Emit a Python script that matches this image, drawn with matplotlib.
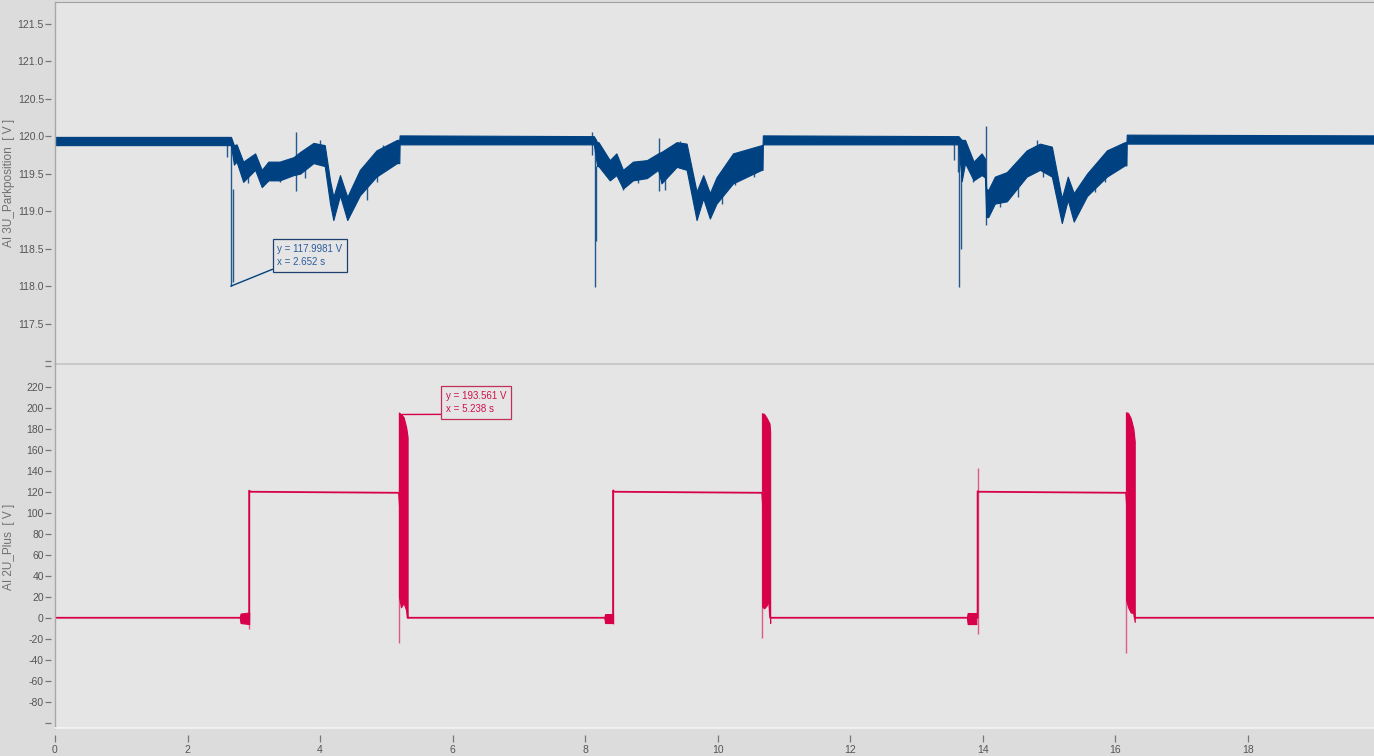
import matplotlib
matplotlib.use("Agg")
import matplotlib.pyplot as plt

plt.rcParams["font.family"] = ["Liberation Sans", "DejaVu Sans"]

# ─────────────────────────────────────────────────────────────
# Data (time in s, voltage in V)
# ─────────────────────────────────────────────────────────────

# AI 3U_Parkposition: noise band (upper / lower envelope)
PARK_T = [0.0, 2.655, 2.70, 2.74, 2.84, 3.02, 3.12, 3.22, 3.39, 3.60, 3.70,
          3.90, 4.07, 4.15, 4.20, 4.30, 4.41, 4.60, 4.85, 5.16, 5.195, 5.20,
          8.13, 8.18, 8.20, 8.37, 8.47, 8.57, 8.72, 8.93, 9.10, 9.15, 9.38,
          9.53, 9.68, 9.78, 9.88, 9.98, 10.23, 10.66, 10.675, 10.68,
          13.63, 13.68, 13.73, 13.86, 13.98, 14.03, 14.05, 14.08, 14.18,
          14.36, 14.66, 14.86, 15.04, 15.19, 15.28, 15.37, 15.57, 15.87,
          16.14, 16.165, 16.17, 19.9]
PARK_HI = [119.99, 119.99, 119.88, 119.89, 119.66, 119.77, 119.55, 119.66,
           119.66, 119.72, 119.79, 119.91, 119.88, 119.41, 119.19, 119.48,
           119.19, 119.55, 119.81, 119.95, 119.95, 120.01,
           120.00, 119.92, 119.92, 119.68, 119.77, 119.55, 119.66, 119.68,
           119.77, 119.79, 119.92, 119.90, 119.26, 119.48, 119.24, 119.45,
           119.77, 119.88, 119.88, 120.01,
           120.00, 119.95, 119.95, 119.66, 119.77, 119.70, 119.30, 119.28,
           119.46, 119.52, 119.81, 119.90, 119.86, 119.17, 119.46, 119.24,
           119.50, 119.81, 119.92, 119.92, 120.02, 120.01]
PARK_LO = [119.88, 119.88, 119.62, 119.66, 119.39, 119.55, 119.32, 119.41,
           119.41, 119.48, 119.50, 119.64, 119.60, 119.10, 118.88, 119.21,
           118.88, 119.21, 119.46, 119.64, 119.64, 119.89,
           119.89, 119.60, 119.60, 119.41, 119.48, 119.30, 119.41, 119.44,
           119.55, 119.37, 119.59, 119.55, 118.88, 119.17, 118.90, 119.10,
           119.37, 119.55, 119.55, 119.89,
           119.89, 119.40, 119.64, 119.41, 119.48, 119.45, 118.92, 118.92,
           119.10, 119.13, 119.46, 119.55, 119.46, 118.84, 119.15, 118.86,
           119.20, 119.46, 119.61, 119.61, 119.90, 119.90]

# single spikes / outliers in AI 3U_Parkposition: time, low, high
PARK_SPIKE_T = [2.60, 2.662, 2.685, 3.63, 8.10, 8.14, 8.16, 9.11,
                13.57, 13.62, 13.645, 13.665, 14.04,
                2.917, 3.395, 3.772, 4.00, 4.703, 4.853, 4.95,
                8.575, 8.80, 9.20, 9.43, 10.06, 10.26, 10.54,
                13.855, 14.257, 14.53, 14.81, 14.91, 15.69, 15.84]
PARK_SPIKE_LO = [119.72, 117.998, 118.05, 119.27, 119.75, 117.99, 118.60,
                 119.27, 119.68, 119.52, 117.99, 118.50, 118.81,
                 119.37, 119.39, 119.44, 119.75, 119.15, 119.39, 119.70,
                 119.28, 119.37, 119.28, 119.75, 119.10, 119.35, 119.46,
                 119.39, 119.06, 119.19, 119.75, 119.46, 119.26, 119.39]
PARK_SPIKE_HI = [119.95, 119.98, 119.30, 120.05, 120.05, 119.98, 119.60,
                 119.97, 119.98, 119.95, 119.95, 119.50, 120.13,
                 119.55, 119.55, 119.60, 119.95, 119.35, 119.55, 119.88,
                 119.45, 119.50, 119.45, 119.94, 119.25, 119.50, 119.60,
                 119.55, 119.25, 119.35, 119.95, 119.60, 119.40, 119.55]

# AI 2U_Plus: main trace
PLUS_T = [0.0, 2.93, 2.93, 2.95, 5.19, 5.32, 8.42, 8.42, 8.44, 10.67, 10.79,
          13.92, 13.92, 13.94, 16.16, 16.29, 19.9]
PLUS_V = [0.0, 0.0, 121.0, 120.0, 119.0, 0.0, 0.0, 121.0, 120.0, 119.0, 0.0,
          0.0, 120.5, 120.0, 119.0, 0.0, 0.0]

# AI 2U_Plus: oscillation bursts (time, upper, lower)
BURST_T = [[2.79, 2.80, 2.93], [5.19, 5.22, 5.26, 5.30, 5.32],
           [8.29, 8.30, 8.42], [10.67, 10.70, 10.74, 10.78, 10.79],
           [13.76, 13.77, 13.90], [16.16, 16.19, 16.23, 16.27, 16.29]]
BURST_HI = [[1.0, 4.0, 5.0], [195.2, 194.0, 191.0, 181.0, 172.0],
            [1.0, 3.5, 3.5], [194.7, 194.0, 190.0, 185.0, 177.0],
            [1.0, 4.5, 4.5], [195.6, 195.0, 190.0, 180.0, 168.0]]
BURST_LO = [[-1.0, -5.0, -6.0], [20.0, 10.0, 14.0, 7.0, 0.0],
            [-1.0, -5.0, -5.0], [10.5, 9.0, 12.0, 17.0, -5.0],
            [-1.0, -6.0, -6.0], [17.0, 10.0, 5.0, 4.5, -4.0]]

# single spikes in AI 2U_Plus
PLUS_SPIKE_T = [2.93, 5.19, 8.42, 10.67, 13.92, 16.16]
PLUS_SPIKE_LO = [-11.0, -24.0, -6.3, -19.0, -15.0, -34.0]
PLUS_SPIKE_HI = [121.6, 195.5, 122.3, 195.0, 143.0, 196.0]

# cursor readouts
PARK_CURSOR = (2.652, 117.9981)
PLUS_CURSOR = (5.238, 193.561)

PARK_TICKS = [117.0, 117.5, 118.0, 118.5, 119.0, 119.5, 120.0, 120.5,
              121.0, 121.5]
PLUS_TICKS = list(range(-100, 241, 20))
TIME_TICKS = list(range(0, 19, 2))

# ─────────────────────────────────────────────────────────────
# Style
# ─────────────────────────────────────────────────────────────

BLUE = "#004182"
RED = "#d7004a"
BG = "#e5e5e5"
MARGIN = "#dcdcdc"
TICK_COL = "#555555"

fig = plt.figure(figsize=(13.74, 7.56), dpi=100, facecolor=MARGIN)

ax1 = fig.add_axes([0.0400, 0.5185, 0.9600, 0.4789], facecolor=BG)
ax2 = fig.add_axes([0.0400, 0.0370, 0.9600, 0.4802], facecolor=BG,
                   sharex=ax1)


def style_axis(ax, ticks, label, fmt, last_blank):
    ax.set_yticks(ticks)
    labels = [fmt(v) for v in ticks]
    labels[0] = ""
    if last_blank:
        labels[-1] = ""
    ax.set_yticklabels(labels)
    ax.tick_params(axis="y", direction="out", length=4, width=0.9,
                   color="#777777", labelsize=7.5, labelcolor=TICK_COL,
                   pad=1)
    ax.spines["left"].set_position(("outward", 3))
    ax.spines["left"].set_visible(False)
    ax.spines["right"].set_visible(False)
    # border at x = 0
    ax.plot([0, 0], [0, 1], transform=ax.transAxes, color="#a8a8a8",
            linewidth=1.0, clip_on=False, zorder=5)
    ax.set_ylabel(label, fontsize=8.5, color="#707070")
    ax.yaxis.set_label_coords(-0.0305, 0.5)


# top panel
ax1.fill_between(PARK_T, PARK_LO, PARK_HI, color=BLUE, linewidth=0.8,
                 edgecolor=BLUE)
ax1.vlines(PARK_SPIKE_T, PARK_SPIKE_LO, PARK_SPIKE_HI, color=BLUE,
           linewidth=1.0, alpha=0.85)
ax1.set_ylim(116.96, 121.79)
style_axis(ax1, PARK_TICKS, "AI 3U_Parkposition  [ V ]",
           lambda v: f"{v:.1f}", False)
ax1.tick_params(axis="x", bottom=False, labelbottom=False)
ax1.spines["top"].set_color("#a0a0a0")
ax1.spines["bottom"].set_color("#c4c4c4")
ax1.spines["bottom"].set_linewidth(1.2)

ax1.annotate(
    f"y = {PARK_CURSOR[1]:.4f} V\nx = {PARK_CURSOR[0]:.3f} s",
    xy=PARK_CURSOR, xytext=(3.355, 118.25), textcoords="data",
    ha="left", va="bottom", fontsize=7, color="#2b5d9e",
    linespacing=1.45,
    bbox=dict(boxstyle="square,pad=0.45", facecolor=BG,
              edgecolor="#1f3f6f", linewidth=0.9),
    arrowprops=dict(arrowstyle="-", color=BLUE, linewidth=1.0,
                    relpos=(0, 0), shrinkA=0, shrinkB=0),
)

# bottom panel
ax2.plot(PLUS_T, PLUS_V, color=RED, linewidth=1.3)
for bt, bh, bl in zip(BURST_T, BURST_HI, BURST_LO):
    ax2.fill_between(bt, bl, bh, color=RED, linewidth=0.8, edgecolor=RED)
ax2.vlines(PLUS_SPIKE_T, PLUS_SPIKE_LO, PLUS_SPIKE_HI, color=RED,
           linewidth=1.0, alpha=0.6)
ax2.set_ylim(-105, 240.7)
style_axis(ax2, PLUS_TICKS, "AI 2U_Plus  [ V ]", lambda v: f"{v:d}", True)
ax2.spines["top"].set_visible(False)
ax2.spines["bottom"].set_position(("outward", 5))
ax2.spines["bottom"].set_visible(False)
ax2.plot([0, 1], [0, 0], transform=ax2.transAxes, color="#f4f4f4",
         linewidth=1.2, clip_on=False, zorder=5)

ax2.set_xticks(TIME_TICKS)
ax2.set_xticklabels([str(t) for t in TIME_TICKS])
ax2.tick_params(axis="x", direction="out", length=5, width=0.9,
                color="#777777", labelsize=7.5, labelcolor=TICK_COL, pad=2)
ax2.set_xlim(0, 19.9)

ax2.annotate(
    f"y = {PLUS_CURSOR[1]:.3f} V\nx = {PLUS_CURSOR[0]:.3f} s",
    xy=PLUS_CURSOR, xytext=(5.897, 193.7), textcoords="data",
    ha="left", va="bottom", fontsize=7, color="#d0104c",
    linespacing=1.45,
    bbox=dict(boxstyle="square,pad=0.45", facecolor=BG,
              edgecolor="#c03058", linewidth=0.9),
    arrowprops=dict(arrowstyle="-", color=RED, linewidth=1.0,
                    relpos=(0, 0), shrinkA=0, shrinkB=0),
)

fig.savefig("out.png", dpi=100, facecolor=MARGIN)
